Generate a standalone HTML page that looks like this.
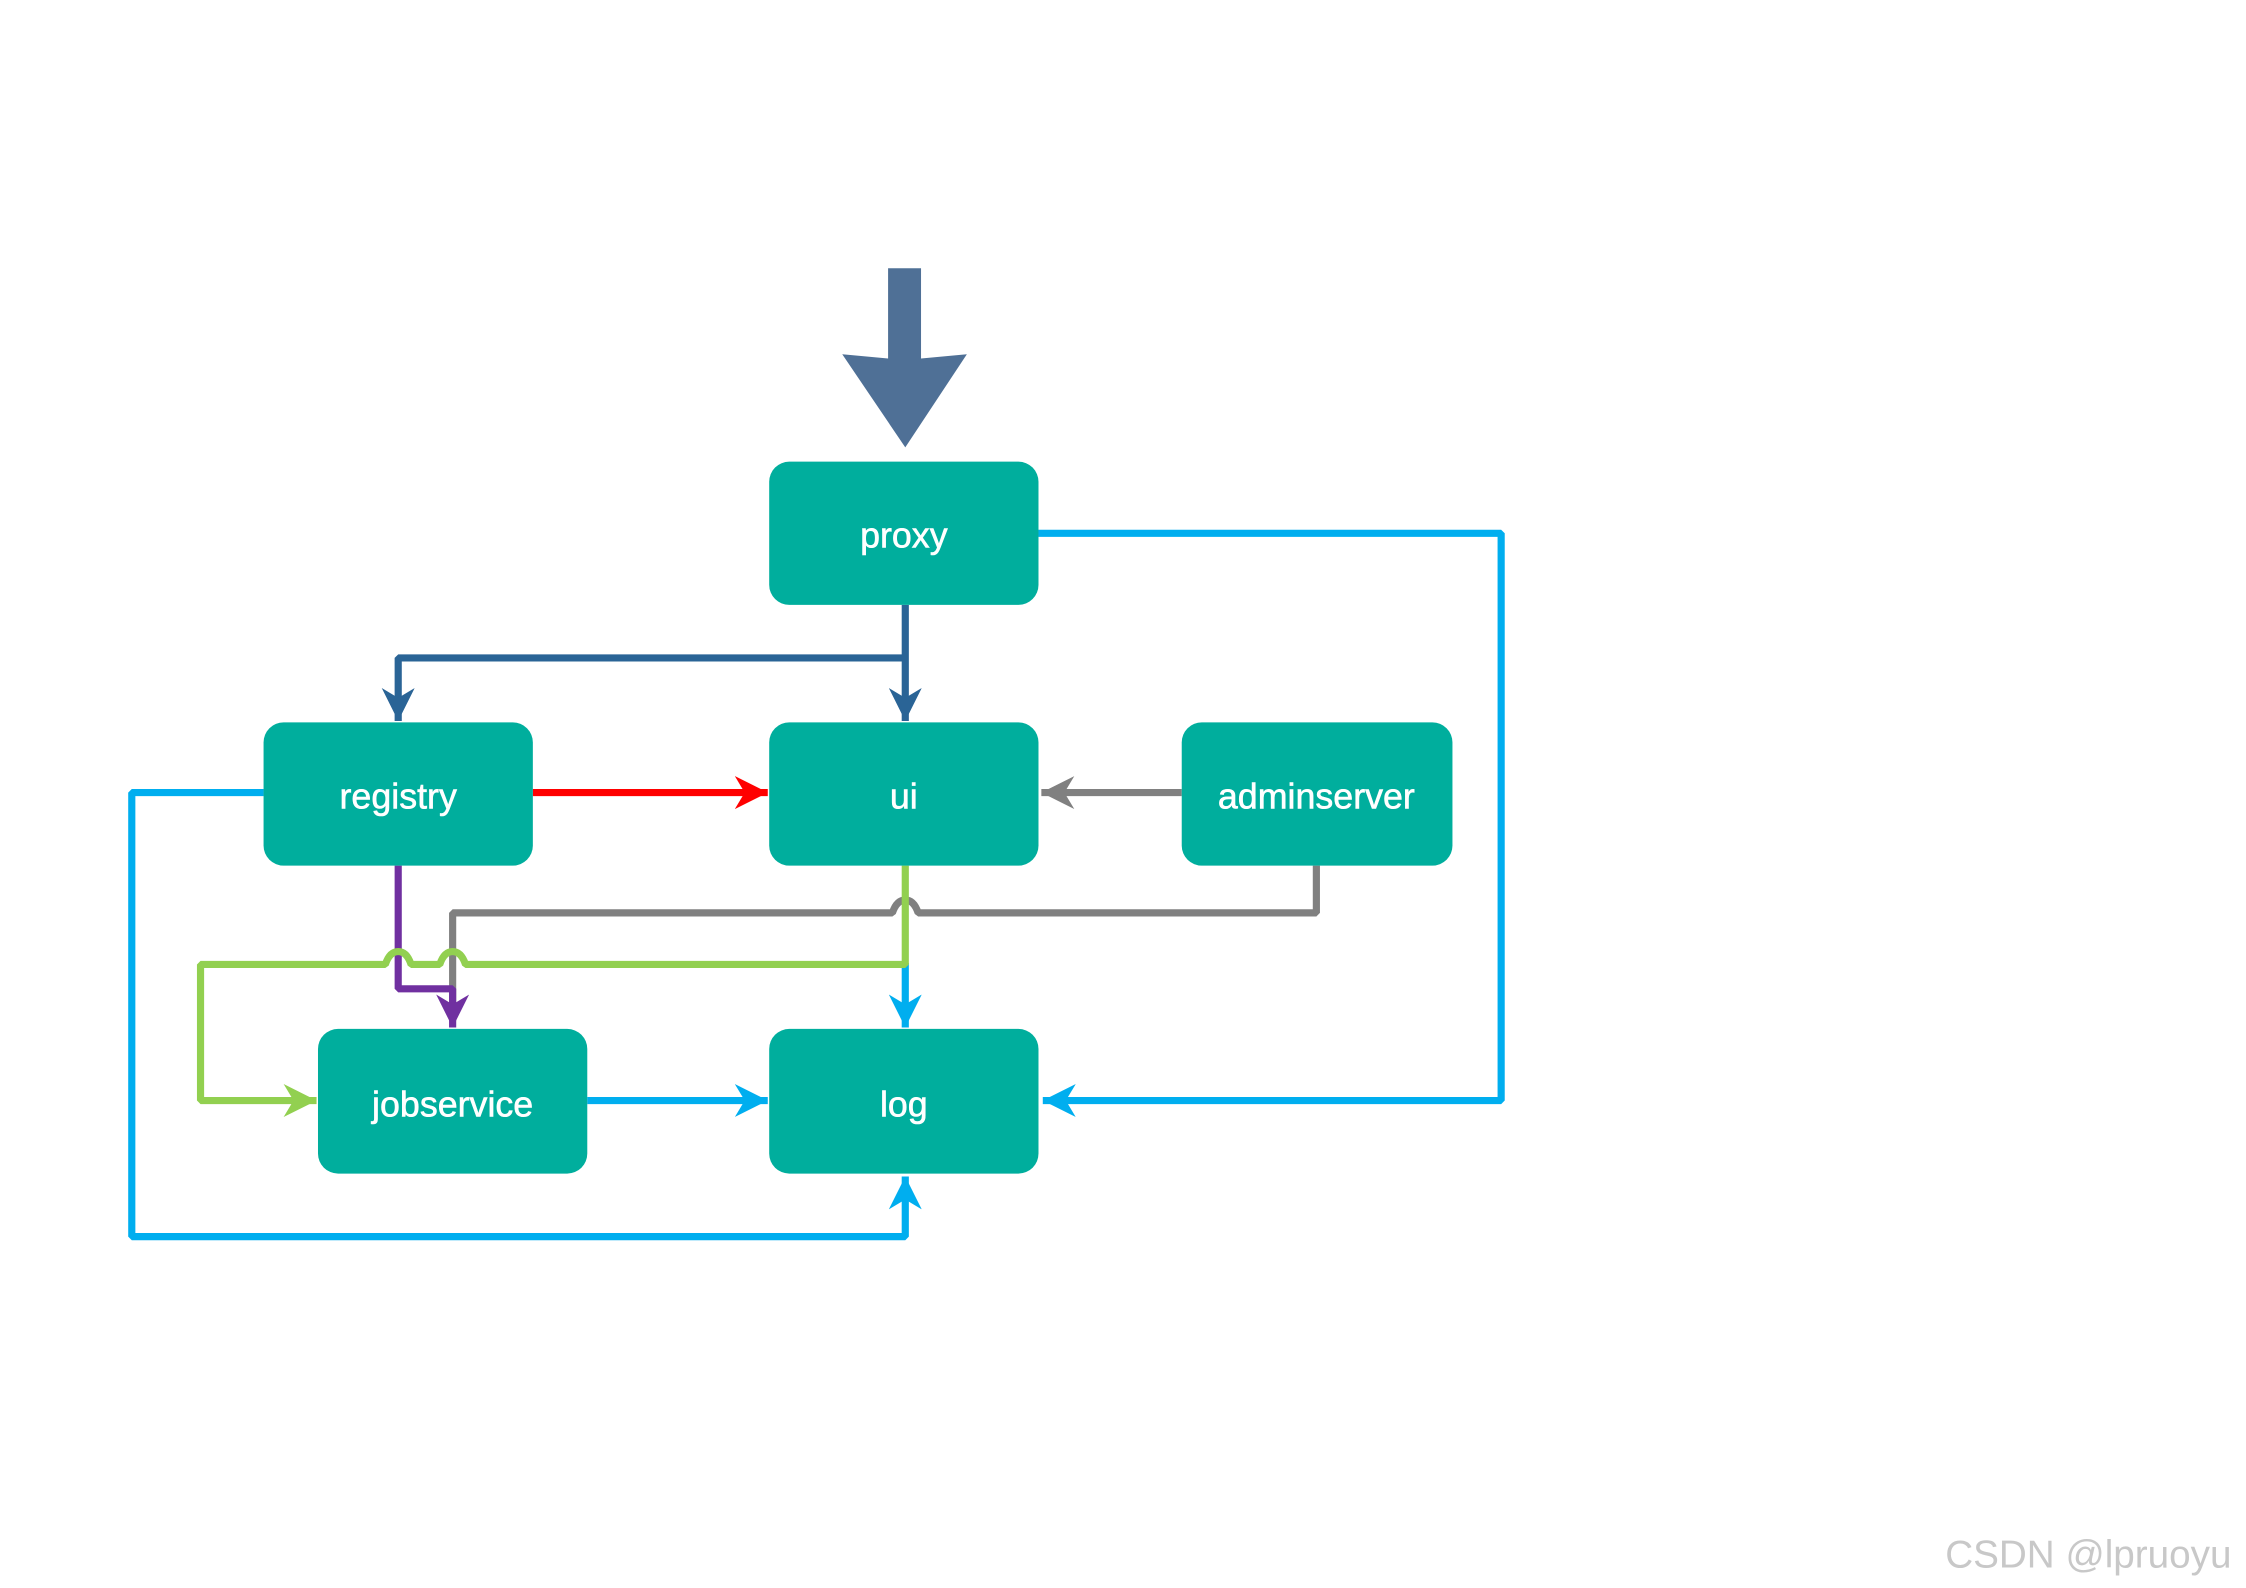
<!DOCTYPE html>
<html><head><meta charset="utf-8"><style>
html,body{margin:0;padding:0;background:#fff;width:2246px;height:1588px;overflow:hidden}
svg{display:block}
text{font-family:"Liberation Sans",sans-serif}
</style></head><body>
<svg width="2246" height="1588" viewBox="0 0 1568 1108" xmlns="http://www.w3.org/2000/svg">
<defs>
<marker id="ab" viewBox="0 0 10 10" refX="10" refY="5" markerWidth="4.6" markerHeight="4.6" orient="auto" markerUnits="strokeWidth"><path d="M0,0 L10,5 L0,10 L3,5 z" fill="#00aeef"/></marker>
<marker id="ad" viewBox="0 0 10 10" refX="10" refY="5" markerWidth="4.6" markerHeight="4.6" orient="auto" markerUnits="strokeWidth"><path d="M0,0 L10,5 L0,10 L3,5 z" fill="#2a6496"/></marker>
<marker id="ar" viewBox="0 0 10 10" refX="10" refY="5" markerWidth="4.6" markerHeight="4.6" orient="auto" markerUnits="strokeWidth"><path d="M0,0 L10,5 L0,10 L3,5 z" fill="#ff0000"/></marker>
<marker id="ag" viewBox="0 0 10 10" refX="10" refY="5" markerWidth="4.6" markerHeight="4.6" orient="auto" markerUnits="strokeWidth"><path d="M0,0 L10,5 L0,10 L3,5 z" fill="#808080"/></marker>
<marker id="ap" viewBox="0 0 10 10" refX="10" refY="5" markerWidth="4.6" markerHeight="4.6" orient="auto" markerUnits="strokeWidth"><path d="M0,0 L10,5 L0,10 L3,5 z" fill="#7030a0"/></marker>
<marker id="al" viewBox="0 0 10 10" refX="10" refY="5" markerWidth="4.6" markerHeight="4.6" orient="auto" markerUnits="strokeWidth"><path d="M0,0 L10,5 L0,10 L3,5 z" fill="#92d050"/></marker>
</defs>
<g fill="none" stroke-width="5" stroke-linejoin="bevel">
<polygon points="620,187 643,187 643,250 675,247 632,312 588,247 620,250" fill="#4f7096" stroke="none"/>
<polyline points="725,372 1048,372 1048,768 728,768" stroke="#00aeef" marker-end="url(#ab)"/>
<polyline points="184,553 92,553 92,863 632,863 632,821" stroke="#00aeef" marker-end="url(#ab)"/>
<polyline points="410,768 536,768" stroke="#00aeef" marker-end="url(#ab)"/>
<polyline points="632,672 632,717" stroke="#00aeef" marker-end="url(#ab)"/>
<polyline points="632,422 632,503" stroke="#2a6496" marker-end="url(#ad)"/>
<polyline points="632,459 278,459 278,503" stroke="#2a6496" marker-end="url(#ad)"/>
<polyline points="372,553 536,553" stroke="#ff0000" marker-end="url(#ar)"/>
<polyline points="825,553 727,553" stroke="#808080" marker-end="url(#ag)"/>
<path d="M919,604 L919,637 L641,637 Q638,628 632,628 Q626,628 623,637 L316,637 L316,700" stroke="#808080"/>
<polyline points="278,604 278,690 316,690 316,717" stroke="#7030a0" marker-end="url(#ap)"/>
<path d="M632,604 L632,673 L325,673 Q322,664 316,664 Q310,664 307,673 L287,673 Q284,664 278,664 Q272,664 269,673 L140,673 L140,768 L221,768" stroke="#92d050" marker-end="url(#al)"/>
</g>
<g fill="#00ae9d">
<rect x="537" y="322" width="188" height="100" rx="14"/>
<rect x="184" y="504" width="188" height="100" rx="14"/>
<rect x="537" y="504" width="188" height="100" rx="14"/>
<rect x="825" y="504" width="189" height="100" rx="14"/>
<rect x="222" y="718" width="188" height="101" rx="14"/>
<rect x="537" y="718" width="188" height="101" rx="14"/>
</g>
<g fill="#fff" font-size="25" text-anchor="middle" stroke="#fff" stroke-width="0.4">
<text x="631" y="382">proxy</text>
<text x="278" y="564">registry</text>
<text x="631" y="564">ui</text>
<text x="919" y="564">adminserver</text>
<text x="316" y="779">jobservice</text>
<text x="631" y="779">log</text>
</g>
<text x="1358" y="1094" font-size="27" fill="#c8c8c8">CSDN @lpruoyu</text>
</svg>
</body></html>
